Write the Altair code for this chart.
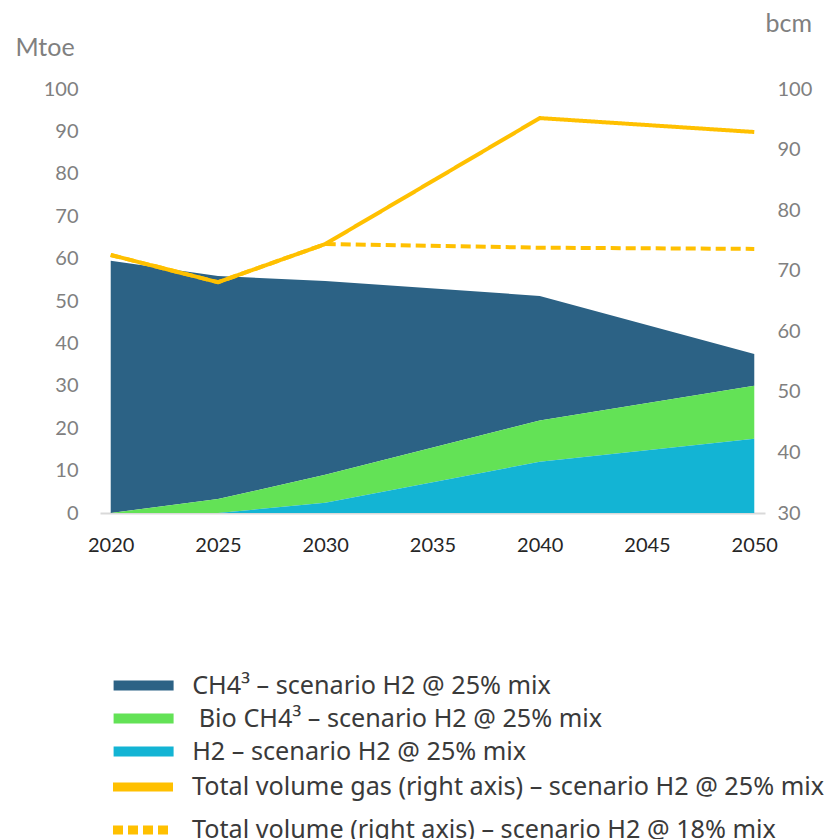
import altair as alt
import pandas as pd

years = [2020, 2025, 2030, 2040, 2050]
ch4 = [59.5, 52.6, 45.7, 29.4, 7.5]
bio = [0.0, 3.3, 6.6, 9.7, 12.5]
h2 = [0.0, 0.0, 2.4, 12.1, 17.5]
total_25 = [72.6, 68.1, 74.4, 95.2, 92.9]
total_18 = [72.6, 68.1, 74.4, 73.8, 73.6]

area_names = ["CH4³ – scenario H2 @ 25% mix",
              "\u2060\u00a0Bio CH4³ – scenario H2 @ 25% mix",
              "H2 – scenario H2 @ 25% mix"]
line_names = ["Total volume gas (right axis) – scenario H2 @ 25% mix",
              "Total volume (right axis) – scenario H2 @ 18% mix"]
area_colors = ["#2c6285", "#63e256", "#13b4d4"]
x_ticks = [2020, 2025, 2030, 2035, 2040, 2045, 2050]
left_ticks = list(range(0, 101, 10))
right_ticks = list(range(30, 101, 10))

rows = []
for i, y in enumerate(years):
    rows.append({"year": y, "series": area_names[0], "value": ch4[i], "ord": 2})
    rows.append({"year": y, "series": area_names[1], "value": bio[i], "ord": 1})
    rows.append({"year": y, "series": area_names[2], "value": h2[i], "ord": 0})
area_df = pd.DataFrame(rows)

lrows = []
for i, y in enumerate(years):
    lrows.append({"year": y, "series": line_names[0], "value": total_25[i]})
    lrows.append({"year": y, "series": line_names[1], "value": total_18[i]})
line_df = pd.DataFrame(lrows)

AX_FONT = "Lato"
LG_FONT = "Noto Sans"
LG_SIZE = 25.2

x_enc = alt.X("year:Q",
              scale=alt.Scale(domain=[2019.5, 2050.5], nice=False, zero=False),
              axis=alt.Axis(values=x_ticks, format="d", title=None, grid=False,
                            ticks=False, domainColor="#d9d9d9", domainWidth=2,
                            labelFont=AX_FONT, labelFontSize=20, labelColor="#262626",
                            labelPadding=22))

areas = alt.Chart(area_df).mark_area(opacity=1).encode(
    x=x_enc,
    y=alt.Y("value:Q", stack="zero",
            scale=alt.Scale(domain=[0, 100], nice=False),
            axis=alt.Axis(values=left_ticks, title="Mtoe", grid=False, ticks=False,
                          domain=False, labelFont=AX_FONT, labelFontSize=20,
                          labelColor="#808080", labelPadding=22,
                          titleAngle=0, titleAlign="left", titleBaseline="middle",
                          titleX=-85, titleY=-42, titleFont=AX_FONT, titleFontSize=25,
                          titleFontWeight="normal", titleColor="#808080")),
    color=alt.Color("series:N",
                    scale=alt.Scale(domain=area_names, range=area_colors),
                    legend=alt.Legend(title=None, orient="none", legendX=31, legendY=584,
                                      symbolType="M-3,-0.5H3V0.5H-3Z", symbolSize=400,
                                      symbolStrokeWidth=0, symbolOpacity=1,
                                      labelFont=LG_FONT, labelFontSize=LG_SIZE,
                                      labelColor="#3a3a3a", labelOffset=36,
                                      labelLimit=900, rowPadding=7, padding=0)),
    order=alt.Order("ord:Q"),
)

lines = alt.Chart(line_df).mark_line(color="#FFC000", strokeWidth=4).encode(
    x=alt.X("year:Q", scale=alt.Scale(domain=[2019.5, 2050.5], nice=False, zero=False)),
    y=alt.Y("value:Q",
            scale=alt.Scale(domain=[30, 100], nice=False, zero=False),
            axis=alt.Axis(orient="right", values=right_ticks, title="bcm", grid=False,
                          ticks=False, domain=False, labelFont=AX_FONT, labelFontSize=20,
                          labelColor="#808080", labelPadding=12,
                          titleAngle=0, titleAlign="left", titleBaseline="middle",
                          titleX=0, titleY=-66, titleFont=AX_FONT, titleFontSize=25,
                          titleFontWeight="normal", titleColor="#808080")),
    strokeDash=alt.StrokeDash("series:N",
                              scale=alt.Scale(domain=line_names, range=[[1, 0], [10, 5]]),
                              legend=alt.Legend(title=None, orient="none", legendX=28.5,
                                                legendY=683.5, symbolType="M-3,0H3",
                                                symbolSize=400, symbolStrokeWidth=9,
                                                symbolStrokeColor="#FFC000",
                                                symbolFillColor="transparent",
                                                labelFont=LG_FONT, labelFontSize=LG_SIZE,
                                                labelColor="#3a3a3a", labelOffset=34.5,
                                                labelLimit=900, rowPadding=6, padding=0)),
    detail="series:N",
)

chart = alt.layer(areas, lines).resolve_scale(y="independent").properties(
    width=665, height=424,
    autosize=alt.AutoSizeParams(type="none"),
    padding={"left": 92, "top": 81, "right": 66, "bottom": 345},
).configure_view(stroke=None)

chart.save("out.html", embed_options={"renderer": "svg", "actions": False})
